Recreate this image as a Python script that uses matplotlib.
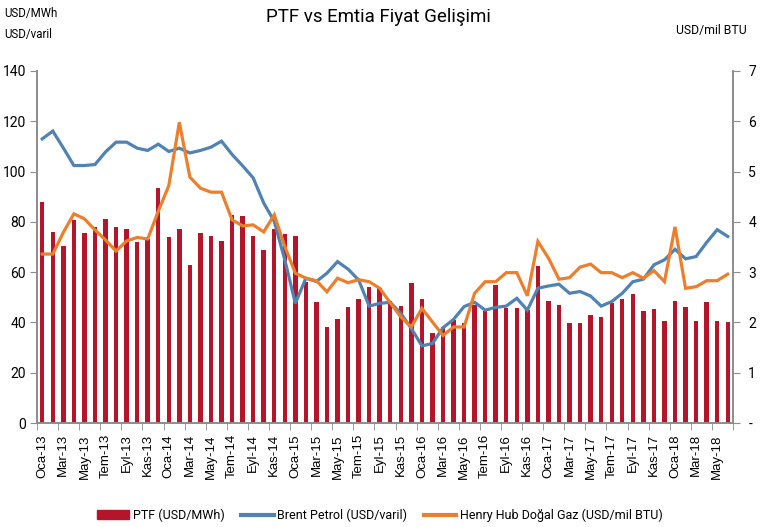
import matplotlib.pyplot as plt
import numpy as np
from matplotlib.patches import Patch
from matplotlib.lines import Line2D

# months Oca-13 .. Haz-18
month_names = ['Oca', 'Şub', 'Mar', 'Nis', 'May', 'Haz',
               'Tem', 'Ağu', 'Eyl', 'Eki', 'Kas', 'Ara']
months = [f'{m}-{y}' for y in range(13, 19) for m in month_names][:66]

# PTF (USD/MWh)
ptf = [88, 76, 70.5, 80.6, 75.7, 78, 81.2, 78, 77.3, 72, 73, 93.5,
       74, 77, 63, 75.7, 74.5, 72.2, 82.8, 82.4, 74.5, 68.8, 77, 75,
       74.5, 56, 48, 38.3, 41.2, 46.3, 49.2, 54.1, 53.5, 48.5, 46.4, 55.8,
       49.5, 35.8, 38.3, 41, 39.9, 47, 44.7, 54.7, 45.9, 45.8, 44.8, 62.5,
       48.6, 46.8, 39.6, 39.6, 43, 42.3, 47.9, 49.2, 51.2, 44.7, 45.2, 40.6,
       48.7, 46.3, 40.6, 48, 40.6, 40]

# Brent Petrol (USD/varil)
brent = [113, 116.1, 109.4, 102.4, 102.4, 102.8, 107.8, 111.7, 111.7, 109.3, 108.4, 110.9,
         108, 109.3, 107.4, 108.4, 109.7, 112.1, 106.8, 102.3, 97.5, 87.5, 80.2, 64.9,
         47.6, 57.6, 56.3, 59.6, 64.2, 61.2, 56.9, 46.5, 47.6, 48, 43.6, 37.6,
         30.7, 31.6, 37.9, 41.2, 46.3, 48, 44.9, 46, 46.5, 49.6, 44.9, 53.6,
         54.5, 55.2, 51.6, 52.3, 50.5, 46.5, 48.3, 51.6, 56.2, 57.2, 62.9, 64.9,
         69.1, 65.3, 66.2, 71.8, 76.9, 74.2]

# Henry Hub Doğal Gaz (USD/mil BTU)
gas = [3.36, 3.36, 3.79, 4.16, 4.06, 3.84, 3.64, 3.42, 3.62, 3.69, 3.66, 4.21,
       4.72, 5.98, 4.89, 4.67, 4.59, 4.59, 4.04, 3.92, 3.94, 3.80, 4.14, 3.51,
       2.98, 2.88, 2.83, 2.61, 2.88, 2.79, 2.85, 2.81, 2.68, 2.39, 2.11, 1.91,
       2.28, 2.01, 1.74, 1.91, 1.91, 2.58, 2.81, 2.81, 2.99, 2.99, 2.53, 3.61,
       3.28, 2.86, 2.89, 3.10, 3.16, 2.99, 2.99, 2.89, 2.99, 2.88, 3.03, 2.81,
       3.90, 2.68, 2.71, 2.83, 2.83, 2.96]

RED = '#B5152B'
BLUE = '#5082B2'
ORANGE = '#EC7F2D'
GRID = '#8C8C8C'

plt.rcParams['font.family'] = ['Roboto', 'DejaVu Sans']

fig = plt.figure(figsize=(7.75, 5.27), dpi=100)
ax = fig.add_axes([0.0477, 0.1973, 0.8981, 0.668])
ax2 = ax.twinx()

x = np.arange(len(months))
ax.bar(x, ptf, width=0.42, color=RED, zorder=2)
ax.plot(x, brent, color=BLUE, lw=2.3, zorder=3, solid_joinstyle='miter')
ax2.plot(x, gas, color=ORANGE, lw=2.3, zorder=3, solid_joinstyle='miter')

ax.set_xlim(-0.5, len(months) - 0.5)
ax.set_ylim(0, 140)
ax2.set_ylim(0, 7)
ax.set_yticks(np.arange(0, 141, 20))
ax2.set_yticks(np.arange(0, 8, 1))
ax2.set_yticklabels(['-'] + [str(v) for v in range(1, 8)])

# labels every two months at category centres, ticks at boundaries
ax.set_xticks(x[::2])
ax.set_xticklabels(months[::2], rotation=90, family='Liberation Sans', fontsize=9.5)
ax.set_xticks(np.arange(-0.5, len(months), 2), minor=True)
ax.tick_params(axis='x', which='major', length=0, pad=8)
ax.tick_params(axis='x', which='minor', length=5, color=GRID, direction='out')
ax.tick_params(axis='y', length=5, color=GRID, labelsize=10, pad=3)
ax2.tick_params(axis='y', length=5, color=GRID, labelsize=10, pad=6)

for a in (ax, ax2):
    a.spines['top'].set_visible(False)
    for s in ('left', 'right', 'bottom'):
        a.spines[s].set_color(GRID)
        a.spines[s].set_linewidth(1.2)

fig.text(0.488, 0.967, 'PTF vs Emtia Fiyat Gelişimi', ha='center', va='center', fontsize=13.5)
fig.text(0.006, 0.975, 'USD/MWh', ha='left', va='center', fontsize=8.3)
fig.text(0.006, 0.934, 'USD/varil', ha='left', va='center', fontsize=8.3)
fig.text(0.872, 0.943, 'USD/mil BTU', ha='left', va='center', fontsize=8.8)

handles = [Patch(color=RED), Line2D([], [], color=BLUE, lw=3),
           Line2D([], [], color=ORANGE, lw=3)]
labels = ['PTF (USD/MWh)', 'Brent Petrol (USD/varil)', 'Henry Hub Doğal Gaz (USD/mil BTU)']
fig.legend(handles, labels, loc='center', bbox_to_anchor=(0.49, 0.022), ncol=3,
           frameon=False, fontsize=9, handlelength=2.6, handletextpad=0.3,
           columnspacing=1.3)

fig.savefig('out.png', dpi=100)
